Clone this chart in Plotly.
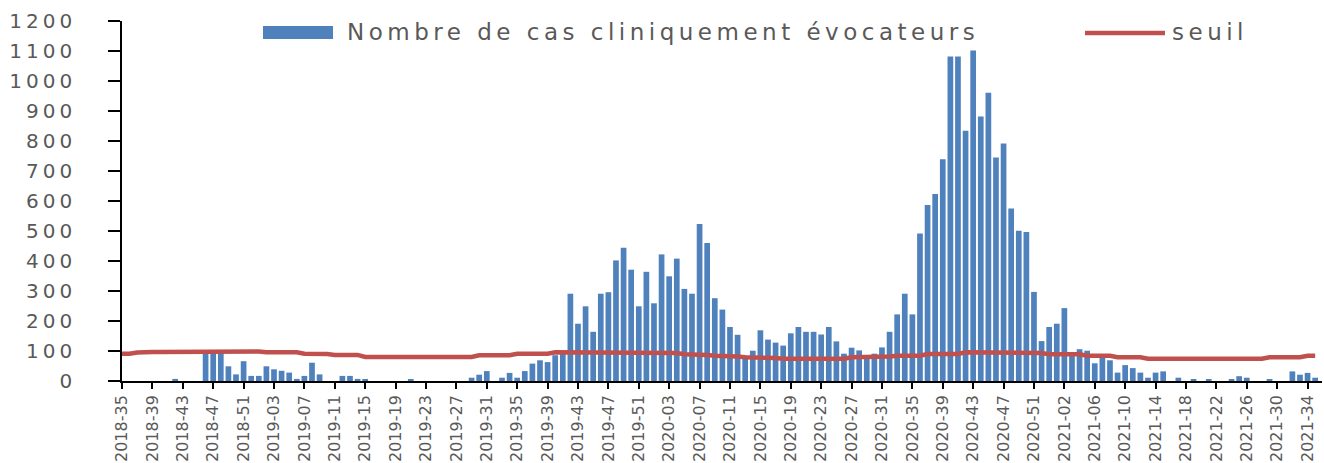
import plotly.graph_objects as go

# semaines ISO 2018-35 .. 2021-35
annees_semaines = [(2018, 35, 52), (2019, 1, 52), (2020, 1, 53), (2021, 1, 35)]
semaines = [f"{a}-{s:02d}" for a, debut, fin in annees_semaines for s in range(debut, fin + 1)]

# Nombre de cas cliniquement évocateurs
cas = [
    0, 0, 0, 0, 0, 0, 0, 7, 0, 0,
    0, 102, 100, 103, 49, 22, 66, 17, 17, 49,
    39, 34, 28, 7, 17, 61, 22, 0, 0, 17,
    17, 7, 6, 0, 0, 0, 0, 0, 6, 0,
    0, 0, 0, 0, 0, 0, 11, 21, 33, 0,
    11, 27, 11, 33, 58, 69, 63, 86, 90, 291,
    191, 249, 164, 291, 296, 402, 444, 371, 249, 364,
    259, 422, 349, 408, 307, 291, 523, 460, 276, 238,
    180, 154, 78, 101, 169, 138, 128, 118, 159, 180,
    164, 164, 155, 180, 132, 91, 111, 102, 80, 91,
    112, 164, 222, 291, 222, 492, 587, 623, 739, 1082,
    1082, 834, 1102, 882, 961, 745, 792, 575, 501, 497,
    297, 133, 180, 191, 243, 90, 106, 101, 59, 78,
    69, 28, 53, 43, 28, 11, 28, 32, 0, 11,
    0, 6, 0, 6, 0, 0, 6, 16, 11, 0,
    0, 6, 0, 0, 32, 21, 27, 11,
]

# seuil épidémique
seuil = [
    91, 91, 95, 97, 97, 97, 97, 100, 100, 100,
    100, 100, 100, 100, 100, 100, 100, 100, 98, 96,
    96, 96, 96, 96, 91, 91, 91, 90, 87, 87,
    87, 87, 80, 80, 80, 80, 80, 80, 80, 80,
    80, 80, 80, 80, 80, 80, 80, 86, 86, 86,
    86, 86, 91, 91, 91, 91, 91, 96, 96, 96,
    96, 96, 96, 96, 96, 96, 96, 96, 96, 96,
    96, 96, 96, 93, 89, 89, 89, 87, 84, 84,
    84, 82, 79, 79, 79, 79, 77, 74, 74, 74,
    74, 74, 74, 74, 74, 74, 79, 79, 79, 79,
    79, 82, 84, 84, 84, 84, 90, 90, 90, 90,
    90, 96, 96, 96, 96, 96, 96, 96, 96, 96,
    96, 93, 89, 89, 89, 89, 89, 84, 84, 84,
    84, 79, 79, 79, 79, 74, 74, 74, 74, 74,
    74, 74, 74, 74, 74, 74, 74, 74, 74, 74,
    74, 79, 79, 79, 79, 79, 84, 84,
]

y_ticks = list(range(0, 1201, 100))

BLEU = '#4F81BD'
ROUGE = '#C0504D'
GRIS = '#595959'
POLICE = 'DejaVu Sans'

fig = go.Figure()

fig.add_trace(go.Bar(
    x=semaines, y=cas,
    name='Nombre de cas cliniquement évocateurs',
    marker=dict(color=BLEU, line=dict(width=0)),
))
fig.add_trace(go.Scatter(
    x=semaines, y=seuil,
    name='seuil', mode='lines',
    line=dict(color=ROUGE, width=4.5),
))

# légende dessinée à la main (pastilles larges comme dans l'original)
def px_x(px):
    return (px - 122) / 1200

def px_y(py):
    return (381 - py) / 360

fig.add_shape(type='rect', xref='paper', yref='paper',
              x0=px_x(263), x1=px_x(333), y0=px_y(39), y1=px_y(26),
              fillcolor=BLEU, line=dict(width=0))
fig.add_shape(type='line', xref='paper', yref='paper',
              x0=px_x(1085), x1=px_x(1165), y0=px_y(33), y1=px_y(33),
              line=dict(color=ROUGE, width=4.5))
fig.add_annotation(xref='paper', yref='paper', x=px_x(345), y=px_y(32),
                   xanchor='left', yanchor='middle', showarrow=False,
                   text='<span style="letter-spacing:4.5px">Nombre de cas cliniquement évocateurs</span>',
                   font=dict(family=POLICE, size=23, color=GRIS))
fig.add_annotation(xref='paper', yref='paper', x=px_x(1170), y=px_y(32),
                   xanchor='left', yanchor='middle', showarrow=False,
                   text='<span style="letter-spacing:4.5px">seuil</span>',
                   font=dict(family=POLICE, size=23, color=GRIS))

fig.update_layout(
    width=1324, height=463,
    margin=dict(l=122, r=2, t=21, b=82),
    paper_bgcolor='white', plot_bgcolor='white',
    showlegend=False,
    bargap=0.25,
    font=dict(family=POLICE, color=GRIS),
)
fig.update_xaxes(
    type='category',
    range=[0, 157.9],
    tickmode='array',
    tickvals=semaines[::4],
    ticktext=semaines[::4],
    tickangle=-90,
    tickfont=dict(family=POLICE, size=16, color=GRIS),
    ticks='outside', ticklen=6, tickwidth=1.5, tickcolor='black',
    showline=True, linecolor='black', linewidth=1.5,
    showgrid=False, automargin=False,
)
fig.update_yaxes(
    range=[0, 1200],
    tickmode='array',
    tickvals=y_ticks,
    ticktext=[f'<span style="letter-spacing:4px">{v}</span>' for v in y_ticks],
    tickfont=dict(family=POLICE, size=20, color=GRIS),
    ticks='outside', ticklen=12, tickwidth=1.5, tickcolor='black',
    ticklabelstandoff=28,
    showline=True, linecolor='black', linewidth=1.5,
    showgrid=False, zeroline=False, automargin=False,
)

# la page a une marge de 8 px par défaut : on la retire pour caler la figure
fig.write_html("out.html", config={'displayModeBar': False},
               post_script="document.body.style.margin='0';")
